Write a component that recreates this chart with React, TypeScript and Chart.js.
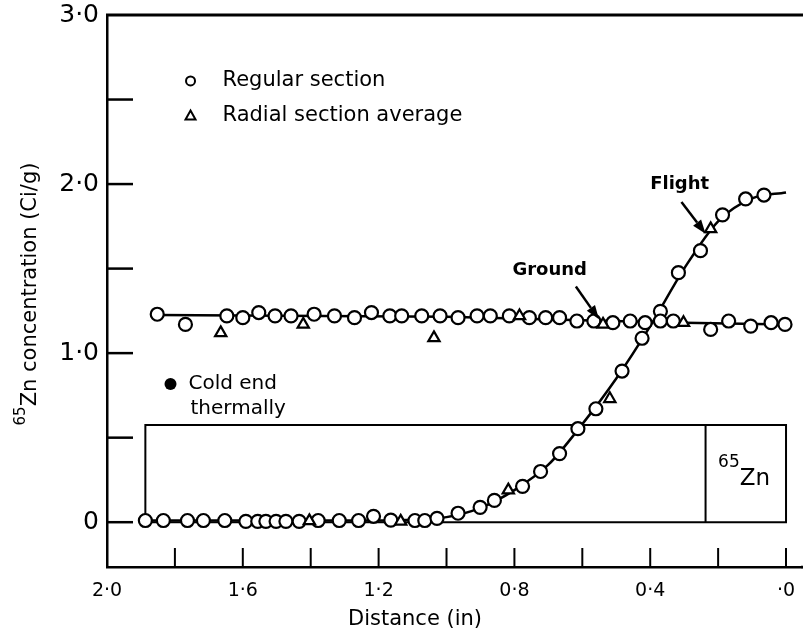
import React, { useEffect, useRef } from "react";
import { Chart, registerables } from "chart.js";

Chart.register(...registerables);

// ---- data ----
const groundCircleX = [1.852, 1.769, 1.647, 1.6, 1.553, 1.505, 1.458, 1.39, 1.33, 1.271, 1.221, 1.167, 1.132, 1.073, 1.019, 0.966, 0.91, 0.871, 0.815, 0.756, 0.708, 0.667, 0.616, 0.566, 0.51, 0.459, 0.415, 0.37, 0.332, 0.222, 0.169, 0.104, 0.044, 0.003];
const groundCircleY = [1.23, 1.17, 1.22, 1.21, 1.24, 1.22, 1.22, 1.23, 1.22, 1.21, 1.24, 1.22, 1.22, 1.22, 1.22, 1.21, 1.22, 1.22, 1.22, 1.21, 1.21, 1.21, 1.19, 1.19, 1.18, 1.19, 1.18, 1.19, 1.19, 1.14, 1.19, 1.16, 1.18, 1.17];

const flightCircleX = [1.887, 1.834, 1.763, 1.716, 1.653, 1.591, 1.556, 1.532, 1.502, 1.473, 1.434, 1.378, 1.316, 1.259, 1.215, 1.164, 1.093, 1.064, 1.028, 0.966, 0.901, 0.859, 0.776, 0.723, 0.667, 0.613, 0.56, 0.483, 0.424, 0.37, 0.317, 0.252, 0.187, 0.119, 0.065];
const flightCircleY = [0.01, 0.01, 0.01, 0.01, 0.01, 0.005, 0.005, 0.005, 0.005, 0.005, 0.005, 0.01, 0.01, 0.01, 0.035, 0.012, 0.01, 0.01, 0.023, 0.053, 0.088, 0.129, 0.212, 0.3, 0.406, 0.553, 0.671, 0.894, 1.088, 1.247, 1.476, 1.606, 1.818, 1.912, 1.935];

const triangleX = [1.665, 1.422, 1.037, 0.785, 0.539, 0.302, 1.404, 1.135, 0.818, 0.519, 0.222];
const triangleY = [1.12, 1.17, 1.09, 1.22, 1.17, 1.18, 0.008, 0.005, 0.19, 0.73, 1.735];

const groundLineX = [1.852, 1.0, 0.6, 0.3, 0.0];
const groundLineY = [1.225, 1.215, 1.195, 1.18, 1.17];

const flightLineX = [1.887, 1.3, 1.1, 1.0, 0.9, 0.8, 0.7, 0.6, 0.5, 0.4, 0.3, 0.2, 0.1, 0.0];
const flightLineY = [0.01, 0.01, 0.015, 0.03, 0.085, 0.19, 0.34, 0.58, 0.85, 1.16, 1.5, 1.78, 1.915, 1.95];

const boxX = [1.887, 1.887, 0.0, 0.0, 1.887];
const boxY = [0.0, 0.575, 0.575, 0.0, 0.0];
const dividerX = [0.237, 0.237];
const dividerY = [0.575, 0.0];

const xLabelValues = [2.0, 1.6, 1.2, 0.8, 0.4, 0.0];
const xTickLabels = ["2·0", "1·6", "1·2", "0·8", "0·4", "·0"];
const xTickMarks = [1.8, 1.6, 1.4, 1.2, 1.0, 0.8, 0.6, 0.4, 0.2, 0.0];
const yLabelValues = [0, 1, 2, 3];
const yTickLabels = ["0", "1·0", "2·0", "3·0"];
const yTickMarks = [0, 0.5, 1, 1.5, 2, 2.5];

const FONT = "'DejaVu Sans', 'Liberation Sans', sans-serif";

const pts = (xs: number[], ys: number[]) => xs.map((v, i) => ({ x: v, y: ys[i] }));

function arrow(ctx: CanvasRenderingContext2D, x1: number, y1: number, x2: number, y2: number) {
  const ang = Math.atan2(y2 - y1, x2 - x1);
  const hl = 14, hw = 5;
  ctx.beginPath();
  ctx.moveTo(x1, y1);
  ctx.lineTo(x2 - hl * Math.cos(ang), y2 - hl * Math.sin(ang));
  ctx.lineWidth = 2.5;
  ctx.stroke();
  ctx.beginPath();
  ctx.moveTo(x2, y2);
  ctx.lineTo(x2 - hl * Math.cos(ang) + hw * Math.sin(ang), y2 - hl * Math.sin(ang) - hw * Math.cos(ang));
  ctx.lineTo(x2 - hl * Math.cos(ang) - hw * Math.sin(ang), y2 - hl * Math.sin(ang) + hw * Math.cos(ang));
  ctx.closePath();
  ctx.fill();
}

const decorPlugin = {
  id: "decor",
  afterDraw(chart: any) {
    const { ctx, chartArea } = chart;
    const xs = chart.scales.x;
    const ys = chart.scales.y;
    const px = (v: number) => xs.getPixelForValue(v);
    const py = (v: number) => ys.getPixelForValue(v);
    ctx.save();
    ctx.strokeStyle = "#000";
    ctx.fillStyle = "#000";
    ctx.lineCap = "butt";
    // top border
    ctx.lineWidth = 3;
    ctx.beginPath();
    ctx.moveTo(chartArea.left - 1, chartArea.top);
    ctx.lineTo(chart.width, chartArea.top);
    ctx.stroke();
    // bottom axis continues to the edge
    ctx.lineWidth = 2.5;
    ctx.beginPath();
    ctx.moveTo(chartArea.right - 2, chartArea.bottom);
    ctx.lineTo(chart.width, chartArea.bottom);
    ctx.stroke();
    // inward ticks
    yTickMarks.forEach((v) => {
      ctx.beginPath();
      ctx.moveTo(chartArea.left, py(v));
      ctx.lineTo(chartArea.left + 26, py(v));
      ctx.stroke();
    });
    ctx.lineWidth = 2;
    xTickMarks.forEach((v) => {
      ctx.beginPath();
      ctx.moveTo(px(v), chartArea.bottom);
      ctx.lineTo(px(v), chartArea.bottom - 19);
      ctx.stroke();
    });

    // legend
    ctx.textBaseline = "middle";
    ctx.textAlign = "left";
    ctx.font = `21px ${FONT}`;
    const lx = px(1.754);
    const ly1 = py(2.61);
    const ly2 = py(2.405);
    ctx.lineWidth = 2;
    ctx.beginPath();
    ctx.arc(lx, ly1, 4.5, 0, Math.PI * 2);
    ctx.stroke();
    ctx.fillText("Regular section", lx + 32, ly1);
    ctx.beginPath();
    ctx.moveTo(lx, ly2 - 5);
    ctx.lineTo(lx + 5, ly2 + 4);
    ctx.lineTo(lx - 5, ly2 + 4);
    ctx.closePath();
    ctx.stroke();
    ctx.fillText("Radial section average", lx + 32, ly2);

    // cold end note
    ctx.font = `20px ${FONT}`;
    const cx = px(1.813);
    const cy = py(0.818);
    ctx.beginPath();
    ctx.arc(cx, cy, 6, 0, Math.PI * 2);
    ctx.fill();
    ctx.fillText("Cold end", cx + 18, cy);
    ctx.fillText("thermally", cx + 20, cy + 25);

    // 65Zn in box
    const zx = px(0.2);
    const zy = py(0.29);
    ctx.font = `17px ${FONT}`;
    ctx.fillText("65", zx, zy - 11);
    const w65 = ctx.measureText("65").width;
    ctx.font = `23px ${FONT}`;
    ctx.fillText("Zn", zx + w65, zy + 6);

    // annotations
    ctx.font = `bold 18px ${FONT}`;
    ctx.fillText("Ground", px(0.806), py(1.49));
    ctx.fillText("Flight", px(0.4), py(2.0));
    arrow(ctx, px(0.619), py(1.394), px(0.551), py(1.2));
    arrow(ctx, px(0.308), py(1.894), px(0.237), py(1.706));

    // axis titles
    ctx.font = `21px ${FONT}`;
    ctx.textAlign = "center";
    ctx.fillText("Distance (in)", 415, 620);
    ctx.save();
    ctx.translate(30, 294);
    ctx.rotate(-Math.PI / 2);
    ctx.textAlign = "left";
    const main = "Zn concentration (Ci/g)";
    ctx.font = `21px ${FONT}`;
    const wMain = ctx.measureText(main).width;
    ctx.font = `15px ${FONT}`;
    const wSup = ctx.measureText("65").width;
    const total = wMain + wSup;
    ctx.fillText("65", -total / 2, -9);
    ctx.font = `21px ${FONT}`;
    ctx.fillText(main, -total / 2 + wSup, 1);
    ctx.restore();

    ctx.restore();
  },
};

export default function App() {
  const ref = useRef<HTMLCanvasElement>(null);
  useEffect(() => {
    if (!ref.current) return;
    const circleStyle = {
      pointStyle: "circle",
      pointRadius: 6.5,
      pointBackgroundColor: "#fff",
      pointBorderColor: "#000",
      pointBorderWidth: 2.2,
      showLine: false,
    };
    const lineStyle = {
      showLine: true,
      pointRadius: 0,
      borderColor: "#000",
      backgroundColor: "#000",
      fill: false,
    };
    const chart = new Chart(ref.current, {
      type: "scatter",
      data: {
        datasets: [
          { label: "Regular ground", data: pts(groundCircleX, groundCircleY), ...circleStyle, order: 1 } as any,
          { label: "Regular flight", data: pts(flightCircleX, flightCircleY), ...circleStyle, order: 1 } as any,
          {
            label: "Radial average",
            data: pts(triangleX, triangleY),
            pointStyle: "triangle",
            pointRadius: 6.5,
            pointBackgroundColor: "#fff",
            pointBorderColor: "#000",
            pointBorderWidth: 2.2,
            showLine: false,
            order: 0,
          } as any,
          { label: "Ground fit", data: pts(groundLineX, groundLineY), ...lineStyle, borderWidth: 2.5, order: 5 } as any,
          { label: "Flight fit", data: pts(flightLineX, flightLineY), ...lineStyle, borderWidth: 2.5, cubicInterpolationMode: "monotone", order: 5 } as any,
          { label: "Box", data: pts(boxX, boxY), ...lineStyle, borderWidth: 2, order: 6 } as any,
          { label: "Divider", data: pts(dividerX, dividerY), ...lineStyle, borderWidth: 2, order: 6 } as any,
        ],
      },
      options: {
        responsive: false,
        animation: false,
        devicePixelRatio: 1,
        layout: { autoPadding: false, padding: { top: 0, right: 0, left: 0, bottom: 0 } },
        plugins: { legend: { display: false }, tooltip: { enabled: false } },
        scales: {
          x: {
            type: "linear",
            reverse: true,
            min: -0.05,
            max: 2.0,
            afterFit: (s: any) => {
              s.height = 65;
            },
            afterBuildTicks: (s: any) => {
              s.ticks = xLabelValues.map((v) => ({ value: v }));
            },
            ticks: {
              autoSkip: false,
              maxRotation: 0,
              padding: 5,
              color: "#000",
              font: { family: FONT, size: 19 },
              callback: (v: any) => {
                const i = xLabelValues.findIndex((t) => Math.abs(t - Number(v)) < 1e-6);
                return i >= 0 ? xTickLabels[i] : "";
              },
            },
            grid: { display: false },
            border: { display: true, color: "#000", width: 2.5 },
          },
          y: {
            type: "linear",
            min: -0.265,
            max: 3.0,
            afterFit: (s: any) => {
              s.width = 107;
            },
            afterBuildTicks: (s: any) => {
              s.ticks = yLabelValues.map((v) => ({ value: v }));
            },
            ticks: {
              autoSkip: false,
              padding: 0,
              color: "#000",
              font: { family: FONT, size: 25, lineHeight: 1.2 },
              callback: (v: any) => {
                const i = yLabelValues.findIndex((t) => Math.abs(t - Number(v)) < 1e-6);
                return i >= 0 ? yTickLabels[i] : "";
              },
            },
            grid: { display: false },
            border: { display: true, color: "#000", width: 2.5 },
          },
        },
      },
      plugins: [decorPlugin],
    } as any);
    return () => chart.destroy();
  }, []);
  return (
    <div style={{ position: "absolute", left: 0, top: 0, width: 803, height: 632, background: "#fff" }}>
      <canvas ref={ref} width={803} height={632} style={{ display: "block", width: 803, height: 632 }} />
    </div>
  );
}
